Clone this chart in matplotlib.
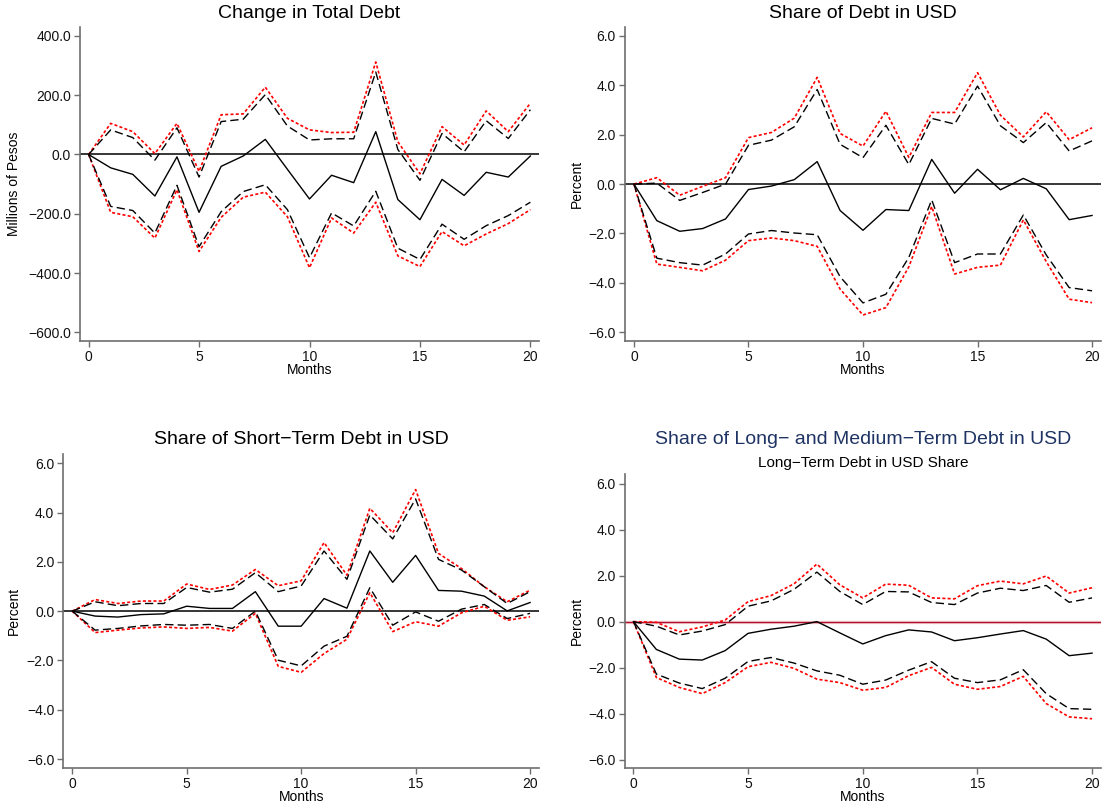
import matplotlib
matplotlib.use("Agg")
import matplotlib.pyplot as plt
from matplotlib.ticker import FuncFormatter, FixedLocator

plt.rcParams['font.family'] = ['Liberation Sans', 'DejaVu Sans']
plt.rcParams['lines.scale_dashes'] = False

months = list(range(21))

# Panel 1: Change in Total Debt (millions of pesos)
debt_est = [0, -45, -67, -140, -8, -195, -40, -5, 51, -50, -150, -70, -95, 77, -152, -220, -84, -138, -60, -76, -5]
debt_hi90 = [0, 83, 57, -19, 90, -76, 111, 119, 202, 96, 49, 53, 53, 278, 17, -87, 71, 9, 114, 54, 151]
debt_hi95 = [0, 105, 77, 3, 105, -57, 134, 137, 227, 122, 83, 74, 75, 312, 43, -65, 94, 32, 147, 77, 173]
debt_lo90 = [0, -175, -189, -265, -104, -311, -193, -125, -102, -186, -348, -197, -241, -124, -316, -354, -235, -286, -240, -206, -161]
debt_lo95 = [0, -195, -210, -282, -119, -327, -212, -144, -127, -210, -382, -214, -265, -161, -342, -378, -260, -308, -268, -233, -186]

# Panel 2: Share of Debt in USD (percent)
usd_est = [0, -1.48, -1.91, -1.80, -1.41, -0.22, -0.08, 0.18, 0.91, -1.07, -1.87, -1.03, -1.07, 1.00, -0.37, 0.60, -0.23, 0.23, -0.19, -1.44, -1.27]
usd_hi90 = [0, 0.04, -0.66, -0.34, 0.0, 1.57, 1.78, 2.32, 3.83, 1.61, 1.07, 2.38, 0.79, 2.66, 2.43, 3.97, 2.36, 1.68, 2.49, 1.34, 1.75]
usd_hi95 = [0, 0.26, -0.45, -0.09, 0.26, 1.88, 2.09, 2.67, 4.32, 2.05, 1.54, 2.95, 1.08, 2.90, 2.90, 4.51, 2.79, 1.91, 2.93, 1.80, 2.28]
usd_lo90 = [0, -3.00, -3.18, -3.28, -2.83, -2.02, -1.88, -1.98, -2.05, -3.75, -4.81, -4.46, -2.97, -0.64, -3.18, -2.83, -2.83, -1.25, -2.87, -4.19, -4.32]
usd_lo95 = [0, -3.24, -3.37, -3.51, -3.08, -2.29, -2.18, -2.29, -2.52, -4.25, -5.30, -5.00, -3.35, -0.91, -3.64, -3.37, -3.28, -1.45, -3.14, -4.66, -4.80]

# Panel 3: Share of Short-Term Debt in USD
st_est = [0, -0.20, -0.24, -0.14, -0.11, 0.20, 0.11, 0.11, 0.79, -0.61, -0.61, 0.51, 0.12, 2.44, 1.17, 2.26, 0.84, 0.81, 0.61, 0.01, 0.35]
st_hi90 = [0, 0.38, 0.22, 0.31, 0.31, 0.96, 0.77, 0.89, 1.56, 0.79, 1.02, 2.44, 1.29, 3.90, 2.93, 4.55, 2.10, 1.67, 0.99, 0.31, 0.79]
st_hi95 = [0, 0.47, 0.31, 0.41, 0.41, 1.10, 0.88, 1.06, 1.69, 1.03, 1.23, 2.78, 1.46, 4.17, 3.18, 4.93, 2.34, 1.73, 0.99, 0.38, 0.85]
st_lo90 = [0, -0.77, -0.70, -0.60, -0.54, -0.57, -0.54, -0.70, 0.0, -1.99, -2.22, -1.42, -1.02, 0.95, -0.57, -0.03, -0.41, 0.08, 0.27, -0.30, -0.09]
st_lo95 = [0, -0.87, -0.77, -0.68, -0.64, -0.70, -0.66, -0.81, -0.09, -2.24, -2.48, -1.72, -1.14, 0.75, -0.83, -0.43, -0.61, -0.07, 0.20, -0.37, -0.23]

# Panel 4: Share of Long- and Medium-Term Debt in USD
lt_est = [0, -1.21, -1.63, -1.67, -1.26, -0.51, -0.33, -0.20, 0.0, -0.49, -0.97, -0.61, -0.36, -0.45, -0.83, -0.70, -0.54, -0.39, -0.76, -1.48, -1.37]
lt_hi90 = [0, -0.20, -0.58, -0.41, -0.13, 0.67, 0.90, 1.40, 2.15, 1.31, 0.74, 1.31, 1.29, 0.83, 0.74, 1.24, 1.45, 1.35, 1.57, 0.84, 1.03]
lt_hi95 = [0, -0.03, -0.44, -0.23, 0.07, 0.87, 1.13, 1.64, 2.50, 1.60, 1.03, 1.63, 1.58, 1.03, 0.99, 1.56, 1.76, 1.64, 1.98, 1.24, 1.47]
lt_lo90 = [0, -2.28, -2.67, -2.91, -2.46, -1.73, -1.56, -1.80, -2.14, -2.33, -2.72, -2.54, -2.11, -1.74, -2.46, -2.65, -2.53, -2.09, -3.13, -3.78, -3.81]
lt_lo95 = [0, -2.43, -2.86, -3.13, -2.65, -1.96, -1.77, -2.03, -2.50, -2.65, -2.98, -2.86, -2.35, -1.99, -2.72, -2.94, -2.82, -2.38, -3.56, -4.14, -4.22]

titles = ["Change in Total Debt", "Share of Debt in USD",
          "Share of Short\u2212Term Debt in USD",
          "Share of Long\u2212 and Medium\u2212Term Debt in USD"]
subtitle4 = "Long\u2212Term Debt in USD Share"
ylabels = ["Millions of Pesos", "Percent", "Percent", "Percent"]
xticks = [0, 5, 10, 15, 20]
yticks_debt = [400, 200, 0, -200, -400, -600]
yticks_pct = [6, 4, 2, 0, -2, -4, -6]

W, H = 1104, 809
fig = plt.figure(figsize=(W / 100, H / 100), dpi=100)
fig.patch.set_facecolor('white')

# pixel boxes: left, right, top, bottom
boxes = [(80, 539, 27, 340.7), (625, 1101, 27, 340.7),
         (63.3, 539, 454.3, 767.5), (624.5, 1101, 474.3, 768)]

panels = [
    (debt_est, debt_hi90, debt_hi95, debt_lo90, debt_lo95, yticks_debt, (-628, 430)),
    (usd_est, usd_hi90, usd_hi95, usd_lo90, usd_lo95, yticks_pct, (-6.34, 6.36)),
    (st_est, st_hi90, st_hi95, st_lo90, st_lo95, yticks_pct, (-6.34, 6.36)),
    (lt_est, lt_hi90, lt_hi95, lt_lo90, lt_lo95, yticks_pct, (-6.36, 6.4)),
]

def fmt(v, pos):
    return ("%.1f" % v).replace("-", "\u2212")

spine_col = '#6e6e6e'
ylab_x = [14, 577, 14, 577]
months_y = [370, 370, 797, 797]
title_y = [13, 13, 439, 439]

for i, (box, pdata) in enumerate(zip(boxes, panels)):
    l, r, t, b = box
    ax = fig.add_axes([l / W, 1 - b / H, (r - l) / W, (b - t) / H])
    est, hi90, hi95, lo90, lo95, yt, ylim = pdata
    if i == 3:
        ax.axhline(0, color='#f6d3da', lw=2.4, zorder=1)
        ax.axhline(0, color='#b3102c', lw=1.0, zorder=2)
    else:
        ax.axhline(0, color='black', lw=1.1, zorder=2)
    ax.plot(months, hi95, color='#ff0000', lw=1.2, dashes=(2.2, 1.6), zorder=3)
    ax.plot(months, lo95, color='#ff0000', lw=1.2, dashes=(2.2, 1.6), zorder=3)
    ax.plot(months, hi90, color='black', lw=1.0, dashes=(6, 3), zorder=4)
    ax.plot(months, lo90, color='black', lw=1.0, dashes=(6, 3), zorder=4)
    ax.plot(months, est, color='black', lw=1.0, zorder=5)
    ax.set_xlim(-0.39, 20.39)
    ax.set_ylim(*ylim)
    ax.xaxis.set_major_locator(FixedLocator(xticks))
    ax.yaxis.set_major_locator(FixedLocator(yt))
    ax.yaxis.set_major_formatter(FuncFormatter(fmt))
    for s in ['top', 'right']:
        ax.spines[s].set_visible(False)
    for s in ['left', 'bottom']:
        ax.spines[s].set_color(spine_col)
        ax.spines[s].set_linewidth(1.2)
    ax.tick_params(axis='both', direction='out', length=4.5, width=1.0,
                   color=spine_col, labelsize=10, labelcolor='#111111', pad=2)
    ax.set_facecolor('white')
    cx = (l + r) / 2 / W
    fig.text(cx, 1 - months_y[i] / H, "Months", ha='center', va='center', fontsize=10)
    fig.text(ylab_x[i] / W, 1 - ((t + b) / 2) / H, ylabels[i], ha='center', va='center',
             rotation=90, fontsize=10)
    tcol = '#1f3464' if i == 3 else 'black'
    fig.text(cx, 1 - title_y[i] / H, titles[i], ha='center', va='center', fontsize=14, color=tcol)
    if i == 3:
        fig.text(cx, 1 - 462.7 / H, subtitle4, ha='center', va='center', fontsize=11, color='black')

fig.savefig("out.png", dpi=100, facecolor='white')
